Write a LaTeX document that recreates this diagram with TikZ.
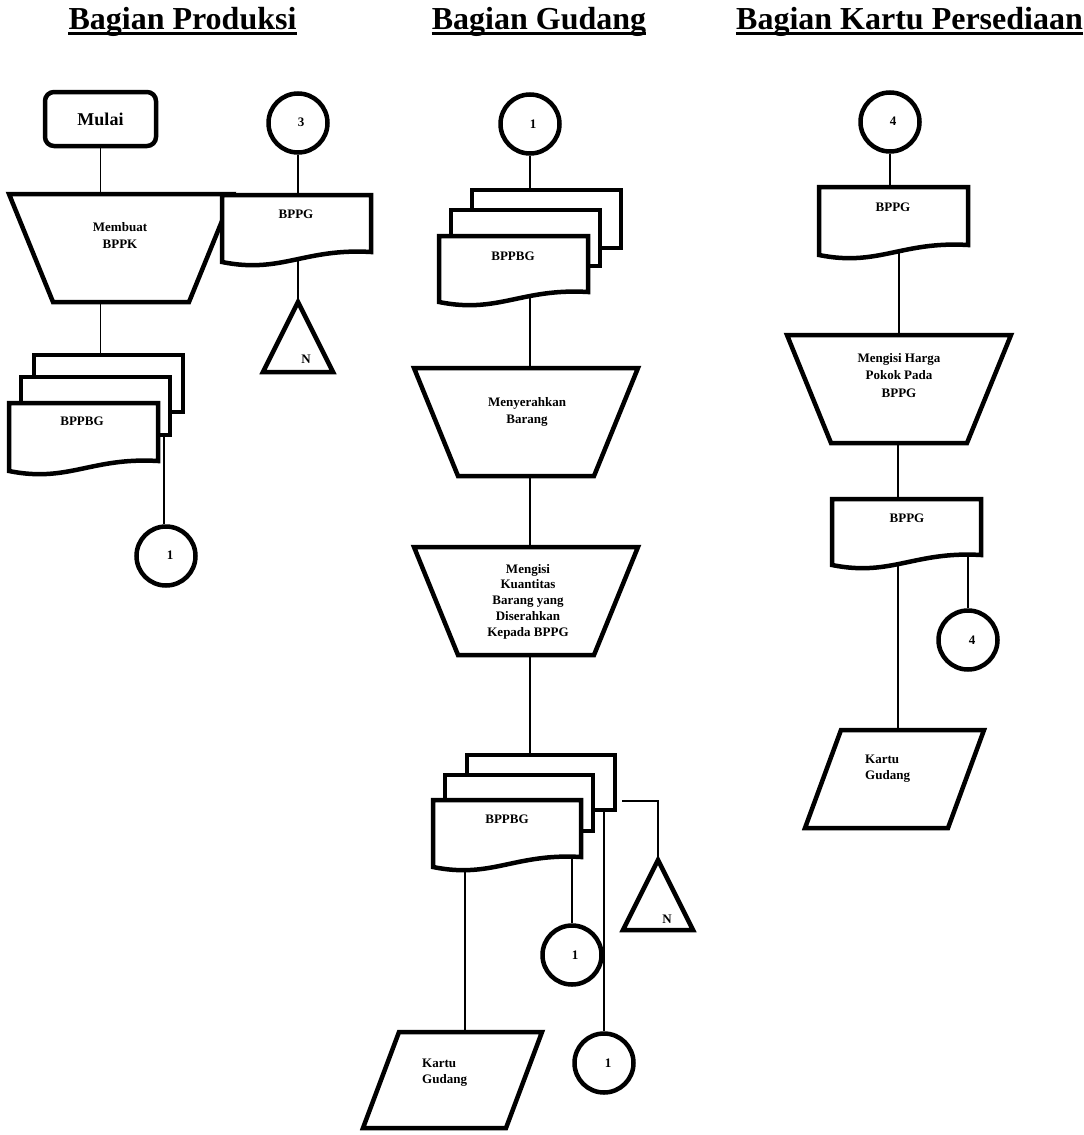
\documentclass[tikz,border=0pt]{standalone}
\usepackage{fontspec}
\setmainfont{Liberation Serif}
\pgfdeclarelayer{bg}
\pgfsetlayers{bg,main}
\newcommand\fcRect[5]{%
  \draw[box] ({#2+2},{#3+2}) rectangle ({#4-2},{#5-2});
  \coordinate (#1) at ({(#2+#4)/2},{(#3+#5)/2});}
\newcommand\fcDoc[5]{%
  \draw[box] ({#2+2},{#3+2}) -- ({#2+#4-2},{#3+2}) -- ({#2+#4-2},{#3+#5-2})
    .. controls ({#2+0.55*#4},{#3+#5-6}) and ({#2+0.4*#4},{#3+#5+20}) .. ({#2+2},{#3+#5+8}) -- cycle;
  \coordinate (#1) at ({#2+0.5*#4},{#3+0.5*#5});}
\newcommand\fcTrap[3]{%
  \draw[box] ({#2-112},{#3+2}) -- ({#2+112},{#3+2}) -- ({#2+68},{#3+110}) -- ({#2-68},{#3+110}) -- cycle;
  \coordinate (#1) at (#2,{#3+56});}
\newcommand\fcTri[3]{%
  \draw[box] (#2,{#3+3}) -- ({#2+35},{#3+73}) -- ({#2-35},{#3+73}) -- cycle;
  \coordinate (#1) at (#2,{#3+3});}
\newcommand\fcPara[4]{%
  \draw[box] (#2,{#3+2}) -- ({#2+143},{#3+2}) -- ({#2+107},{#3+#4-2}) -- ({#2-36},{#3+#4-2}) -- cycle;
  \coordinate (#1) at ({#2+36},{#3+#4/2});}
\begin{document}
\begin{tikzpicture}[x=1pt,y=-1pt,
  box/.style={draw,line width=4.5pt,fill=white},
  link/.style={line width=1.8pt},
  txt/.style={inner sep=0pt,font=\bfseries\fontsize{13}{17}\selectfont,align=center},
  txtl/.style={inner sep=0pt,font=\bfseries\fontsize{13}{16}\selectfont,align=left},
  ttl/.style={inner sep=0pt,font=\bfseries\fontsize{32}{38}\selectfont},
  conn/.style={circle,draw,line width=4.5pt,fill=white,minimum size=59pt,inner sep=0pt}]
\useasboundingbox (0,0) rectangle (1084,1135);

% titles
\node[ttl,anchor=base] (h1) at (182.5,29) {Bagian Produksi};
\node[ttl,anchor=base] (h2) at (539,29) {Bagian Gudang};
\node[ttl,anchor=base] (h3) at (909.5,29) {Bagian Kartu Persediaan};
\foreach \h in {h1,h2,h3}
  \draw[line width=3pt] ([yshift=-4.5pt]\h.base west) -- ([yshift=-4.5pt]\h.base east);

% ---------------- Bagian Produksi
\node[draw,line width=4.5pt,rounded corners=9pt,minimum width=111pt,minimum height=54pt,inner sep=0pt,
  font=\bfseries\fontsize{18}{22}\selectfont] (mulai) at (100.5,119) {Mulai};
\fcTrap{p1}{121}{192}
\node[txt,anchor=base] (p1t) at (120,248) {Membuat\\BPPK};
\fcDoc{d1}{220}{193}{153}{61}
\node[txt,anchor=base] (d1t) at (296,218) {BPPG};
\node[conn] (c3) at (298,123) {};
\node[txt] (c3t) at (301,122) {3};
\fcTri{n1}{298}{299}
\node[txt,anchor=base] (n1t) at (306,363) {N};
\fcRect{s1a}{32}{353}{185}{414}
\fcRect{s1b}{19}{375}{172}{437}
\fcDoc{s1c}{7}{401}{153}{62}
\node[txt,anchor=base] (s1t) at (82,425) {BPPBG};
\node[conn] (c1a) at (166,556) {};
\node[txt] (c1at) at (170,555) {1};

% ---------------- Bagian Gudang
\node[conn] (c1b) at (530,124) {};
\node[txt] (c1bt) at (533,124) {1};
\fcRect{s2a}{470}{188}{623}{250}
\fcRect{s2b}{449}{208}{602}{268}
\fcDoc{s2c}{437}{234}{153}{60}
\node[txt,anchor=base] (s2t) at (513,260) {BPPBG};
\fcTrap{p2}{526}{366}
\node[txt,anchor=base] (p2t) at (527,423) {Menyerahkan\\Barang};
\fcTrap{p3}{526}{545}
\node[txt,anchor=base,font=\bfseries\fontsize{13}{15.75}\selectfont] (p3t) at (528,636)
  {Mengisi\\Kuantitas\\Barang yang\\Diserahkan\\Kepada BPPG};
\fcRect{s3a}{465}{753}{617}{812}
\fcRect{s3b}{443}{773}{595}{833}
\fcDoc{s3c}{431}{798}{152}{61}
\node[txt,anchor=base] (s3t) at (507,823) {BPPBG};
\node[conn] (c1c) at (572,955) {};
\node[txt] (c1ct) at (575,955) {1};
\node[conn] (c1d) at (604,1063) {};
\node[txt] (c1dt) at (608,1063) {1};
\fcTri{n2}{658}{857}
\node[txt,anchor=base] (n2t) at (667,923) {N};
\coordinate (nfree) at (622,801);
\fcPara{k1}{399}{1030}{100}
\node[txtl,anchor=base west] (k1t) at (422,1083) {Kartu\\Gudang};

% ---------------- Bagian Kartu Persediaan
\node[conn] (c4a) at (890,122) {};
\node[txt] (c4at) at (893,121) {4};
\fcDoc{d3}{817}{185}{153}{62}
\node[txt,anchor=base] (d3t) at (893,211) {BPPG};
\fcTrap{p4}{899}{333}
\node[txt,anchor=base,font=\bfseries\fontsize{13}{17.5}\selectfont] (p4t) at (899,397)
  {Mengisi Harga\\Pokok Pada\\BPPG};
\fcDoc{d4}{830}{497}{153}{60}
\node[txt,anchor=base] (d4t) at (907,522) {BPPG};
\node[conn] (c4b) at (968,640) {};
\node[txt] (c4bt) at (972,640) {4};
\fcPara{k2}{841}{728}{102}
\node[txtl,anchor=base west] (k2t) at (865,779) {Kartu\\Gudang};

% ---------------- connectors
\begin{pgfonlayer}{bg}
\draw[link] (mulai.south) -- (mulai.south |- p1);
\draw[link] (p1 -| mulai.south) -- (mulai.south |- s1a);
\draw[link] (c3.south) -- (c3 |- d1);
\draw[link] (c3 |- d1) -- (n1);
\draw[link] (164,420 |- s1b) -- (c1a.north -| 164,0);
\draw[link] (c1b.south) -- (c1b |- s2a);
\draw[link] (c1b |- s2c) -- (c1b |- p2);
\draw[link] (c1b |- p2) -- (c1b |- p3);
\draw[link] (c1b |- p3) -- (c1b |- s3a);
\draw[link] (s3c -| 465,0) -- (k1 -| 465,0);
\draw[link] (s3c -| c1c) -- (c1c.north);
\draw[link] (s3a -| c1d) -- (c1d.north);
\draw[link] (nfree) -- (nfree -| n2) -- (n2);
\draw[link] (c4a.south) -- (c4a |- d3);
\draw[link] (d3 -| p4) -- (p4);
\draw[link] (p4 -| 898,0) -- (d4 -| 898,0);
\draw[link] (d4 -| 898,0) -- (k2 -| 898,0);
\draw[link] (d4 -| c4b) -- (c4b.north);
\end{pgfonlayer}
\end{tikzpicture}
\end{document}
